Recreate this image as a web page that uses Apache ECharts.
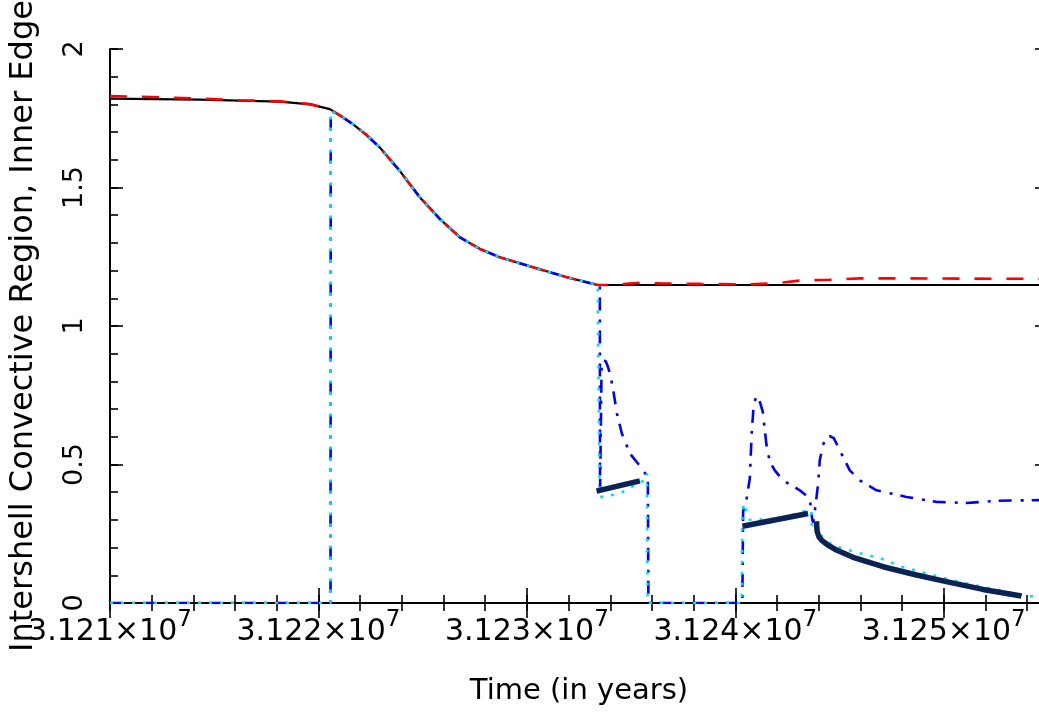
<!DOCTYPE html>
<html>
<head>
<meta charset="utf-8">
<script src="https://cdn.jsdelivr.net/npm/echarts@6/dist/echarts.min.js"></script>
<style>
  html, body { margin: 0; padding: 0; background: #fff; }
  #chart { width: 1039px; height: 715px; }
</style>
</head>
<body>
<div id="chart"></div>
<script>
// x ticks (years) and y ticks
const xTicks = [31210000, 31220000, 31230000, 31240000, 31250000];
const yTicks = [0, 0.5, 1, 1.5, 2];

// flat top before the fall
const blackTop = [[31210000, 1.821], [31214300, 1.817], [31218150, 1.810], [31219600, 1.800], [31220550, 1.783]];
const redTop = [[31210000, 1.830], [31212400, 1.826], [31214300, 1.821], [31216200, 1.815], [31218150, 1.811], [31219600, 1.801], [31220550, 1.783]];

// fall shared by all four thin curves
const declineCurve = [
  [31220590, 1.777], [31221100, 1.757], [31221650, 1.729], [31222300, 1.690],
  [31222950, 1.644], [31223900, 1.560], [31224870, 1.464], [31225830, 1.386],
  [31226790, 1.320], [31227750, 1.278], [31228700, 1.248], [31230290, 1.212],
  [31231920, 1.176], [31233400, 1.148]
];

const blackTail = [[31255000, 1.148]];
const redTail = [
  [31233980, 1.148], [31235420, 1.156], [31236380, 1.154], [31238300, 1.152],
  [31240700, 1.150], [31242130, 1.156], [31243090, 1.164], [31244530, 1.167],
  [31245970, 1.172], [31247890, 1.172], [31255000, 1.170]
];

const zeroStart = [[31210000, 0], [31220580, 0]];

const blueTail = [
  [31233500, 1.148], [31233510, 0.395], [31233582, 0.85], [31233690, 0.876],
  [31233790, 0.872], [31233900, 0.85], [31233980, 0.83], [31234124, 0.778],
  [31234316, 0.685], [31234556, 0.612], [31234940, 0.54], [31235515, 0.486],
  [31235803, 0.454], [31235830, 0], [31240335, 0], [31240373, 0.33],
  [31240551, 0.38], [31240694, 0.45], [31240790, 0.62], [31240886, 0.72],
  [31241016, 0.746], [31241126, 0.74], [31241318, 0.69], [31241495, 0.57],
  [31241654, 0.51], [31241893, 0.479], [31242277, 0.443], [31243092, 0.407],
  [31243572, 0.377], [31243692, 0.30], [31243740, 0.29], [31243860, 0.36],
  [31243970, 0.43], [31244052, 0.515], [31244195, 0.57], [31244387, 0.598],
  [31244531, 0.602], [31244723, 0.595], [31245011, 0.551], [31245490, 0.479],
  [31245970, 0.443], [31246771, 0.407], [31248210, 0.383], [31249649, 0.365],
  [31251087, 0.361], [31252526, 0.369], [31255000, 0.372]
];

const cyanTail = [
  [31233476, 1.148], [31233490, 0.383], [31233644, 0.383], [31234460, 0.395],
  [31235323, 0.432], [31235707, 0.445], [31235760, 0.468], [31235790, 0],
  [31240311, 0], [31240340, 0.31], [31240400, 0.36], [31240455, 0.36],
  [31240694, 0.30], [31242133, 0.305], [31243476, 0.335], [31243653, 0.335],
  [31243677, 0.274], [31243716, 0.288], [31244100, 0.245], [31244500, 0.218],
  [31244915, 0.202], [31245970, 0.18], [31246929, 0.162], [31248032, 0.13],
  [31249087, 0.108], [31250766, 0.075], [31252684, 0.046], [31253979, 0.025],
  [31255000, 0.02]
];

// thick segments, broken by nulls
const navyLine = [
  [31233342, 0.404], [31235419, 0.441], [31235420, null],
  [31240340, 0.277], [31243489, 0.323], [31243490, null],
  [31243892, 0.295], [31243920, 0.26], [31244004, 0.24], [31244148, 0.226],
  [31244388, 0.212], [31244853, 0.191], [31245650, 0.165], [31247089, 0.131],
  [31248689, 0.101], [31250286, 0.0745], [31251884, 0.049], [31253725, 0.025]
];

const X_MAX = 31255000;
const FONT = 'DejaVu Sans';
const chart = echarts.init(document.getElementById('chart'), null, {renderer: 'canvas'});

const frameLine = {show: true, lineStyle: {color: '#000', width: 2}};
const tickStyle = {color: '#000', width: 1.6};

// plain frame/tick axis (no labels), used for top/right and for the small ticks
const tickAxis = (pos, min, max, interval, len, line) => ({
  type: 'value', position: pos, min: min, max: max, interval: interval,
  axisLine: line ? frameLine : {show: false},
  axisTick: {show: true, inside: true, length: len, lineStyle: tickStyle},
  splitLine: {show: false}, axisLabel: {show: false}
});

const thin = (data, color, type, width) => ({
  type: 'line', data: data, showSymbol: false, symbol: 'none', animation: false,
  lineStyle: {color: color, width: width, type: type}
});

chart.setOption({
  backgroundColor: '#fff',
  animation: false,
  grid: {left: 110, top: 49, width: 938, height: 554, containLabel: false, outerBoundsMode: 'none'},
  xAxis: [{
    type: 'value', position: 'bottom',
    min: xTicks[0], max: X_MAX, interval: 10000,
    axisLine: frameLine,
    axisTick: {show: true, inside: true, length: 15, lineStyle: tickStyle},
    splitLine: {show: false},
    axisLabel: {
      margin: 6, hideOverlap: false,
      formatter: v => xTicks.includes(v) ? '{a|' + (v / 1e7).toFixed(3) + '×10}{b|7}' : '',
      rich: {
        a: {fontFamily: FONT, fontSize: 30, color: '#000', lineHeight: 46},
        b: {fontFamily: FONT, fontSize: 23, color: '#000', lineHeight: 22, verticalAlign: 'top'}
      }
    },
    name: 'Time (in years)', nameLocation: 'middle', nameGap: 74,
    nameTextStyle: {fontFamily: FONT, fontSize: 29, color: '#000'}
  },
    tickAxis('top', xTicks[0], X_MAX, 10000, 15, true),
    tickAxis('bottom', xTicks[0], X_MAX, 2000, 8, false),
    tickAxis('top', xTicks[0], X_MAX, 2000, 8, false)
  ],
  yAxis: [{
    type: 'value', position: 'left',
    min: yTicks[0], max: yTicks[yTicks.length - 1], interval: 0.5,
    axisLine: frameLine,
    axisTick: {show: true, inside: true, length: 13, lineStyle: tickStyle},
    splitLine: {show: false},
    axisLabel: {rotate: 90, margin: 22, fontFamily: FONT, fontSize: 27, color: '#000',
      formatter: v => String(v)},
    name: 'Intershell Convective Region, Inner Edge', nameLocation: 'middle', nameGap: 70,
    nameTextStyle: {fontFamily: FONT, fontSize: 32, color: '#000'}
  },
    tickAxis('right', 0, 2, 0.5, 13, true),
    tickAxis('left', 0, 2, 0.1, 8, false),
    tickAxis('right', 0, 2, 0.1, 8, false)
  ],
  series: [
    thin(blackTop.concat(declineCurve, blackTail), '#000000', 'solid', 2.2),
    thin(redTop.concat(declineCurve, redTail), '#ff0000', [17, 15], 2.6),
    thin(zeroStart.concat(declineCurve, blueTail), '#0000ff', [13, 9, 3, 8], 2.6),
    thin(zeroStart.concat(declineCurve, cyanTail), '#00e0ee', [3, 8], 2.6),
    Object.assign(thin(navyLine, '#0b2255', 'solid', 5.5), {connectNulls: false})
  ]
});
</script>
</body>
</html>
